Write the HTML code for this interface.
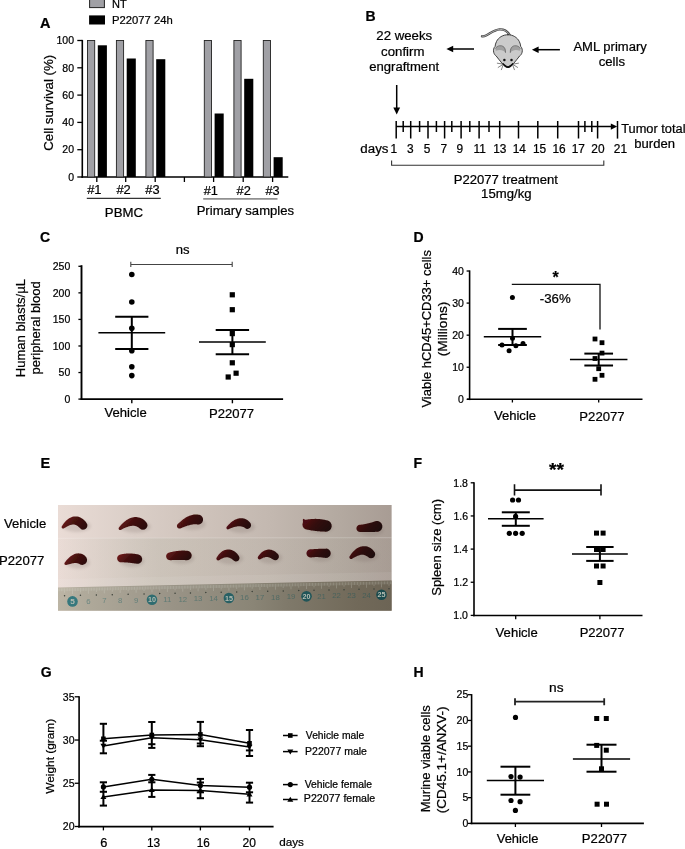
<!DOCTYPE html>
<html><head><meta charset="utf-8"><style>
html,body{margin:0;padding:0;background:#fff;}
svg{display:block;will-change:transform;}
text{font-family:"Liberation Sans",sans-serif;}
text:not([fill]){stroke:#000;stroke-width:0.22px;}
</style></head><body>
<svg width="685" height="849" viewBox="0 0 685 849">
<rect width="685" height="849" fill="#fff"/>
<rect x="89.6" y="-1" width="14.8" height="8.6" fill="#a0a0a5" stroke="#222" stroke-width="1"/>
<rect x="89.10" y="15.40" width="15.90" height="9.10" fill="#000" />
<text x="112.02" y="7.90" font-size="11">NT</text>
<text x="112.00" y="24.00" font-size="11" textLength="60.72" lengthAdjust="spacingAndGlyphs">P22077 24h</text>
<text x="40.04" y="27.70" font-size="14.5" font-weight="bold">A</text>
<text transform="translate(52.70,150.10) rotate(-90)" x="-0.66" y="0" font-size="12.5" textLength="96.01" lengthAdjust="spacingAndGlyphs">Cell survival (%)</text>
<line x1="82.30" y1="39.90" x2="82.30" y2="177.80" stroke="#000" stroke-width="1.6" />
<line x1="77.30" y1="177.00" x2="82.30" y2="177.00" stroke="#000" stroke-width="1.3" />
<text x="68.19" y="180.70" font-size="10.5">0</text>
<line x1="77.30" y1="149.70" x2="82.30" y2="149.70" stroke="#000" stroke-width="1.3" />
<text x="62.36" y="153.40" font-size="10.5">20</text>
<line x1="77.30" y1="122.40" x2="82.30" y2="122.40" stroke="#000" stroke-width="1.3" />
<text x="62.36" y="126.10" font-size="10.5">40</text>
<line x1="77.30" y1="95.10" x2="82.30" y2="95.10" stroke="#000" stroke-width="1.3" />
<text x="62.36" y="98.80" font-size="10.5">60</text>
<line x1="77.30" y1="67.80" x2="82.30" y2="67.80" stroke="#000" stroke-width="1.3" />
<text x="62.36" y="71.50" font-size="10.5">80</text>
<line x1="77.30" y1="40.50" x2="82.30" y2="40.50" stroke="#000" stroke-width="1.3" />
<text x="56.54" y="44.20" font-size="10.5">100</text>
<line x1="81.50" y1="177.00" x2="288.30" y2="177.00" stroke="#000" stroke-width="1.6" />
<line x1="96.80" y1="177.00" x2="96.80" y2="182.00" stroke="#000" stroke-width="1.3" />
<line x1="125.70" y1="177.00" x2="125.70" y2="182.00" stroke="#000" stroke-width="1.3" />
<line x1="155.20" y1="177.00" x2="155.20" y2="182.00" stroke="#000" stroke-width="1.3" />
<line x1="184.40" y1="177.00" x2="184.40" y2="182.00" stroke="#000" stroke-width="1.3" />
<line x1="213.60" y1="177.00" x2="213.60" y2="182.00" stroke="#000" stroke-width="1.3" />
<line x1="243.20" y1="177.00" x2="243.20" y2="182.00" stroke="#000" stroke-width="1.3" />
<line x1="272.60" y1="177.00" x2="272.60" y2="182.00" stroke="#000" stroke-width="1.3" />
<rect x="87.50" y="40.5" width="7.2" height="136.5" fill="#a0a0a5" stroke="#222" stroke-width="0.9"/>
<rect x="97.80" y="45.30" width="9.10" height="131.70" fill="#000" />
<rect x="116.40" y="40.5" width="7.2" height="136.5" fill="#a0a0a5" stroke="#222" stroke-width="0.9"/>
<rect x="126.70" y="58.50" width="9.10" height="118.50" fill="#000" />
<rect x="145.90" y="40.5" width="7.2" height="136.5" fill="#a0a0a5" stroke="#222" stroke-width="0.9"/>
<rect x="156.20" y="59.20" width="9.10" height="117.80" fill="#000" />
<rect x="204.30" y="40.5" width="7.2" height="136.5" fill="#a0a0a5" stroke="#222" stroke-width="0.9"/>
<rect x="214.60" y="113.50" width="9.10" height="63.50" fill="#000" />
<rect x="233.90" y="40.5" width="7.2" height="136.5" fill="#a0a0a5" stroke="#222" stroke-width="0.9"/>
<rect x="244.20" y="78.80" width="9.10" height="98.20" fill="#000" />
<rect x="263.30" y="40.5" width="7.2" height="136.5" fill="#a0a0a5" stroke="#222" stroke-width="0.9"/>
<rect x="273.60" y="157.20" width="9.10" height="19.80" fill="#000" />
<text x="87.14" y="194.20" font-size="13" textLength="14.34" lengthAdjust="spacingAndGlyphs">#1</text>
<text x="116.44" y="194.20" font-size="13" textLength="14.34" lengthAdjust="spacingAndGlyphs">#2</text>
<text x="145.34" y="194.20" font-size="13" textLength="14.27" lengthAdjust="spacingAndGlyphs">#3</text>
<text x="203.64" y="194.50" font-size="13" textLength="14.23" lengthAdjust="spacingAndGlyphs">#1</text>
<text x="236.54" y="194.50" font-size="13" textLength="14.23" lengthAdjust="spacingAndGlyphs">#2</text>
<text x="265.44" y="194.50" font-size="13" textLength="14.17" lengthAdjust="spacingAndGlyphs">#3</text>
<line x1="86.80" y1="198.40" x2="160.80" y2="198.40" stroke="#333" stroke-width="1.2" />
<line x1="203.20" y1="198.90" x2="277.50" y2="198.90" stroke="#909090" stroke-width="1.6" />
<text x="104.84" y="217.40" font-size="12.8" textLength="38.14" lengthAdjust="spacingAndGlyphs">PBMC</text>
<text x="196.65" y="215.20" font-size="12.8" textLength="97.42" lengthAdjust="spacingAndGlyphs">Primary samples</text>
<text x="365.59" y="20.60" font-size="14" font-weight="bold">B</text>
<text x="376.34" y="40.20" font-size="12.5" textLength="55.82" lengthAdjust="spacingAndGlyphs">22 weeks</text>
<text x="381.11" y="55.60" font-size="12.5" textLength="43.30" lengthAdjust="spacingAndGlyphs">confirm</text>
<text x="369.21" y="71.00" font-size="12.5" textLength="69.88" lengthAdjust="spacingAndGlyphs">engraftment</text>
<line x1="451.00" y1="49.00" x2="474.00" y2="49.00" stroke="#000" stroke-width="1.5" />
<path d="M446.4,49 L453.2,45.8 L453.2,52.2 Z" fill="#000"/>
<line x1="537.00" y1="49.70" x2="559.90" y2="49.70" stroke="#000" stroke-width="1.5" />
<path d="M531.9,49.7 L538.6,46.5 L538.6,52.9 Z" fill="#000"/>
<text x="573.43" y="51.00" font-size="12.5" textLength="73.34" lengthAdjust="spacingAndGlyphs">AML primary</text>
<text x="598.71" y="65.50" font-size="12.5" textLength="26.36" lengthAdjust="spacingAndGlyphs">cells</text>
<g stroke-linejoin="round" stroke-linecap="round">
<path d="M509.5,34.8 C507.5,31 503.5,29.2 499.5,29.4 C494.5,29.8 490,33.5 486,35.5 C484.5,36.3 483,36.6 482,36.3" fill="none" stroke="#444" stroke-width="2.3"/>
<path d="M509.5,34.8 C507.5,31 503.5,29.2 499.5,29.4 C494.5,29.8 490,33.5 486,35.5 C484.5,36.3 483,36.6 482,36.3" fill="none" stroke="#bbb" stroke-width="0.9"/>
<path d="M507.9,34.7 C513,34.7 517.3,37.5 519.3,41.5 C520.2,43.3 520.6,45 520.7,46.4 C522.2,47.8 522.6,50.3 522.1,52.3 C521.6,54.3 520.6,55.3 519.7,55.9 C517.8,58.3 515.5,61.3 513.5,63.6 C511.5,65.9 509.8,67.1 507.9,67.1 C506,67.1 504.3,65.9 502.3,63.6 C500.3,61.3 498,58.3 496.1,55.9 C495.2,55.3 494.2,54.3 493.7,52.3 C493.2,50.3 493.6,47.8 495.1,46.4 C495.2,45 495.6,43.3 496.5,41.5 C498.5,37.5 502.8,34.7 507.9,34.7 Z" fill="#cbcbcb" stroke="#2e2e2e" stroke-width="0.9"/>
<path d="M495.6,48.6 C497,46 500.5,45.2 503,46.6 C504.8,47.6 505.6,49.8 505.5,52.4 C503.5,50 500,49 495.6,50.8 Z" fill="#a0a0a0"/>
<path d="M520.2,48.6 C518.8,46 515.3,45.2 512.8,46.6 C511,47.6 510.2,49.8 510.3,52.4 C512.3,50 515.8,49 520.2,50.8 Z" fill="#a0a0a0"/>
<path d="M495.6,48.2 C497,45.8 500.5,45 503,46.4 C504.8,47.4 505.6,49.6 505.5,52.4" fill="none" stroke="#555" stroke-width="0.7"/>
<path d="M520.2,48.2 C518.8,45.8 515.3,45 512.8,46.4 C511,47.4 510.2,49.6 510.3,52.4" fill="none" stroke="#555" stroke-width="0.7"/>
<circle cx="504.4" cy="60.1" r="1.25" fill="#111"/>
<circle cx="511.5" cy="60.1" r="1.25" fill="#111"/>
<path d="M503,63.6 C505,65.5 506.5,66.8 507.9,66.8 C509.3,66.8 510.8,65.5 512.8,63.6 C511.5,65.8 509.8,67.4 507.9,67.4 C506,67.4 504.3,65.8 503,63.6 Z" fill="#111" stroke="#111" stroke-width="1.2"/>
<g stroke="#333" stroke-width="0.6" fill="none">
<path d="M502.2,64 L497.3,63.2"/><path d="M502.4,64.8 L498.2,67.4"/><path d="M503,65.3 L501.4,69.7"/>
<path d="M513.6,64 L518.5,63.2"/><path d="M513.4,64.8 L517.6,67.4"/><path d="M512.8,65.3 L514.4,69.7"/>
</g></g>
<line x1="396.70" y1="85.00" x2="396.70" y2="109.00" stroke="#000" stroke-width="1.5" />
<path d="M396.7,114.6 L393.3,107.6 L400.1,107.6 Z" fill="#000"/>
<line x1="396.20" y1="126.60" x2="612.00" y2="126.60" stroke="#000" stroke-width="1.5" />
<path d="M617.2,126.6 L610.8,123.4 L610.8,129.8 Z" fill="#000"/>
<line x1="617.50" y1="121.00" x2="617.50" y2="138.60" stroke="#000" stroke-width="1.5" />
<line x1="396.20" y1="121.00" x2="396.20" y2="138.50" stroke="#000" stroke-width="1.5" />
<line x1="410.70" y1="121.00" x2="410.70" y2="138.50" stroke="#000" stroke-width="1.5" />
<line x1="428.00" y1="121.00" x2="428.00" y2="138.50" stroke="#000" stroke-width="1.5" />
<line x1="444.60" y1="121.00" x2="444.60" y2="138.50" stroke="#000" stroke-width="1.5" />
<line x1="461.10" y1="121.00" x2="461.10" y2="138.50" stroke="#000" stroke-width="1.5" />
<line x1="479.10" y1="121.00" x2="479.10" y2="138.50" stroke="#000" stroke-width="1.5" />
<line x1="499.70" y1="121.00" x2="499.70" y2="138.50" stroke="#000" stroke-width="1.5" />
<line x1="518.50" y1="121.00" x2="518.50" y2="138.50" stroke="#000" stroke-width="1.5" />
<line x1="537.80" y1="121.00" x2="537.80" y2="138.50" stroke="#000" stroke-width="1.5" />
<line x1="557.70" y1="121.00" x2="557.70" y2="138.50" stroke="#000" stroke-width="1.5" />
<line x1="578.50" y1="121.00" x2="578.50" y2="138.50" stroke="#000" stroke-width="1.5" />
<line x1="597.60" y1="121.00" x2="597.60" y2="138.50" stroke="#000" stroke-width="1.5" />
<line x1="403.20" y1="121.00" x2="403.20" y2="132.00" stroke="#000" stroke-width="1.5" />
<line x1="419.60" y1="121.00" x2="419.60" y2="132.00" stroke="#000" stroke-width="1.5" />
<line x1="436.40" y1="121.00" x2="436.40" y2="132.00" stroke="#000" stroke-width="1.5" />
<line x1="451.80" y1="121.00" x2="451.80" y2="132.00" stroke="#000" stroke-width="1.5" />
<line x1="469.80" y1="121.00" x2="469.80" y2="132.00" stroke="#000" stroke-width="1.5" />
<line x1="489.00" y1="121.00" x2="489.00" y2="132.00" stroke="#000" stroke-width="1.5" />
<line x1="584.90" y1="121.00" x2="584.90" y2="132.00" stroke="#000" stroke-width="1.5" />
<line x1="591.80" y1="121.00" x2="591.80" y2="132.00" stroke="#000" stroke-width="1.5" />
<text x="360.37" y="152.50" font-size="12.5" textLength="28.13" lengthAdjust="spacingAndGlyphs">days</text>
<text x="390.55" y="152.60" font-size="11.9">1</text>
<text x="407.08" y="152.60" font-size="11.9">3</text>
<text x="423.70" y="152.60" font-size="11.9">5</text>
<text x="440.45" y="152.60" font-size="11.9">7</text>
<text x="456.50" y="152.60" font-size="11.9">9</text>
<text x="473.59" y="152.60" font-size="11.9">11</text>
<text x="493.22" y="152.60" font-size="11.9">13</text>
<text x="512.73" y="152.60" font-size="11.9">14</text>
<text x="532.89" y="152.60" font-size="11.9">15</text>
<text x="552.42" y="152.60" font-size="11.9">16</text>
<text x="571.75" y="152.60" font-size="11.9">17</text>
<text x="591.34" y="152.60" font-size="11.9">20</text>
<text x="613.80" y="152.60" font-size="11.9">21</text>
<text x="621.18" y="132.60" font-size="12.5" textLength="64.36" lengthAdjust="spacingAndGlyphs">Tumor total</text>
<text x="634.35" y="147.80" font-size="12.5" textLength="40.58" lengthAdjust="spacingAndGlyphs">burden</text>
<path d="M391.6,160.6 L391.6,165.2 L603.8,165.2 L603.8,160.6" fill="none" stroke="#333" stroke-width="1.1"/>
<text x="453.75" y="183.50" font-size="12.5" textLength="104.08" lengthAdjust="spacingAndGlyphs">P22077 treatment</text>
<text x="481.11" y="197.90" font-size="12.5" textLength="50.45" lengthAdjust="spacingAndGlyphs">15mg/kg</text>
<text x="40.04" y="242.40" font-size="14" font-weight="bold">C</text>
<line x1="81.50" y1="265.20" x2="81.50" y2="399.90" stroke="#000" stroke-width="1.9" />
<line x1="78.40" y1="399.10" x2="81.50" y2="399.10" stroke="#000" stroke-width="1.3" />
<text x="64.39" y="402.80" font-size="10.5">0</text>
<line x1="78.40" y1="372.54" x2="81.50" y2="372.54" stroke="#000" stroke-width="1.3" />
<text x="58.56" y="376.24" font-size="10.5">50</text>
<line x1="78.40" y1="345.98" x2="81.50" y2="345.98" stroke="#000" stroke-width="1.3" />
<text x="52.74" y="349.68" font-size="10.5">100</text>
<line x1="78.40" y1="319.42" x2="81.50" y2="319.42" stroke="#000" stroke-width="1.3" />
<text x="52.74" y="323.12" font-size="10.5">150</text>
<line x1="78.40" y1="292.86" x2="81.50" y2="292.86" stroke="#000" stroke-width="1.3" />
<text x="52.74" y="296.56" font-size="10.5">200</text>
<line x1="78.40" y1="266.30" x2="81.50" y2="266.30" stroke="#000" stroke-width="1.3" />
<text x="52.74" y="270.00" font-size="10.5">250</text>
<line x1="80.60" y1="399.10" x2="283.10" y2="399.10" stroke="#000" stroke-width="1.9" />
<line x1="131.80" y1="399.10" x2="131.80" y2="403.30" stroke="#000" stroke-width="1.4" />
<line x1="232.40" y1="399.10" x2="232.40" y2="403.30" stroke="#000" stroke-width="1.4" />
<text x="104.53" y="417.00" font-size="12.5" textLength="42.15" lengthAdjust="spacingAndGlyphs">Vehicle</text>
<text x="208.95" y="417.60" font-size="12.5" textLength="45.14" lengthAdjust="spacingAndGlyphs">P22077</text>
<path d="M130.8,261.8 L130.8,267 M130.8,264.5 L232.2,264.5 M232.2,261.8 L232.2,267" fill="none" stroke="#444" stroke-width="1.1"/>
<text x="175.85" y="254.40" font-size="12.5" textLength="13.82" lengthAdjust="spacingAndGlyphs">ns</text>
<circle cx="131.80" cy="274.50" r="2.8" fill="#000"/>
<circle cx="131.80" cy="302.00" r="2.8" fill="#000"/>
<circle cx="131.80" cy="328.20" r="2.8" fill="#000"/>
<circle cx="131.80" cy="350.70" r="2.8" fill="#000"/>
<circle cx="131.80" cy="366.80" r="2.8" fill="#000"/>
<circle cx="131.80" cy="375.60" r="2.8" fill="#000"/>
<line x1="131.80" y1="316.70" x2="131.80" y2="349.00" stroke="#000" stroke-width="2.0" />
<line x1="115.20" y1="316.70" x2="148.40" y2="316.70" stroke="#000" stroke-width="2.0" />
<line x1="115.20" y1="349.00" x2="148.40" y2="349.00" stroke="#000" stroke-width="2.0" />
<line x1="98.40" y1="332.70" x2="165.20" y2="332.70" stroke="#000" stroke-width="1.6" />
<rect x="229.70" y="292.20" width="5.20" height="5.20" fill="#000" />
<rect x="229.70" y="307.10" width="5.20" height="5.20" fill="#000" />
<rect x="229.70" y="331.00" width="5.20" height="5.20" fill="#000" />
<rect x="229.70" y="342.00" width="5.20" height="5.20" fill="#000" />
<rect x="229.70" y="360.20" width="5.20" height="5.20" fill="#000" />
<rect x="233.50" y="370.60" width="5.20" height="5.20" fill="#000" />
<rect x="225.60" y="374.40" width="5.20" height="5.20" fill="#000" />
<line x1="232.40" y1="330.00" x2="232.40" y2="354.20" stroke="#000" stroke-width="2.0" />
<line x1="215.70" y1="330.00" x2="249.10" y2="330.00" stroke="#000" stroke-width="2.0" />
<line x1="215.70" y1="354.20" x2="249.10" y2="354.20" stroke="#000" stroke-width="2.0" />
<line x1="199.00" y1="342.00" x2="265.80" y2="342.00" stroke="#000" stroke-width="1.6" />
<text transform="translate(25.20,376.20) rotate(-90)" x="-1.04" y="0" font-size="12.5" textLength="98.22" lengthAdjust="spacingAndGlyphs">Human blasts/µL</text>
<text transform="translate(39.70,373.70) rotate(-90)" x="-0.84" y="0" font-size="12.5" textLength="93.22" lengthAdjust="spacingAndGlyphs">peripheral blood</text>
<text x="413.49" y="242.00" font-size="14" font-weight="bold">D</text>
<line x1="469.60" y1="270.40" x2="469.60" y2="400.10" stroke="#000" stroke-width="1.6" />
<line x1="466.60" y1="399.30" x2="469.60" y2="399.30" stroke="#000" stroke-width="1.3" />
<text x="458.09" y="403.00" font-size="10.5">0</text>
<line x1="466.60" y1="367.23" x2="469.60" y2="367.23" stroke="#000" stroke-width="1.3" />
<text x="452.26" y="370.93" font-size="10.5">10</text>
<line x1="466.60" y1="335.16" x2="469.60" y2="335.16" stroke="#000" stroke-width="1.3" />
<text x="452.27" y="338.86" font-size="10.5">20</text>
<line x1="466.60" y1="303.09" x2="469.60" y2="303.09" stroke="#000" stroke-width="1.3" />
<text x="452.26" y="306.79" font-size="10.5">30</text>
<line x1="466.60" y1="271.02" x2="469.60" y2="271.02" stroke="#000" stroke-width="1.3" />
<text x="452.26" y="274.72" font-size="10.5">40</text>
<line x1="467.00" y1="399.30" x2="642.50" y2="399.30" stroke="#000" stroke-width="1.6" />
<line x1="512.40" y1="399.30" x2="512.40" y2="402.50" stroke="#000" stroke-width="1.3" />
<line x1="598.70" y1="399.30" x2="598.70" y2="402.50" stroke="#000" stroke-width="1.3" />
<text x="493.93" y="420.40" font-size="12.5" textLength="42.15" lengthAdjust="spacingAndGlyphs">Vehicle</text>
<text x="579.35" y="420.50" font-size="12.5" textLength="45.24" lengthAdjust="spacingAndGlyphs">P22077</text>
<text transform="translate(431.30,407.50) rotate(-90)" x="-0.06" y="0" font-size="12.5" textLength="157.43" lengthAdjust="spacingAndGlyphs">Viable hCD45+CD33+ cells</text>
<text transform="translate(447.10,355.50) rotate(-90)" x="-0.82" y="0" font-size="12.5" textLength="54.71" lengthAdjust="spacingAndGlyphs">(Millions)</text>
<path d="M511.8,284.3 L600,284.3 L600,329.5" fill="none" stroke="#111" stroke-width="1.3"/>
<text x="552.62" y="282.63" font-size="17" textLength="6.25" lengthAdjust="spacingAndGlyphs" font-weight="bold">*</text>
<text x="539.81" y="302.90" font-size="12.5" textLength="30.85" lengthAdjust="spacingAndGlyphs">-36%</text>
<circle cx="512.40" cy="297.60" r="2.5" fill="#000"/>
<circle cx="512.50" cy="338.20" r="2.5" fill="#000"/>
<circle cx="502.00" cy="345.00" r="2.5" fill="#000"/>
<circle cx="515.90" cy="345.70" r="2.5" fill="#000"/>
<circle cx="523.00" cy="343.50" r="2.5" fill="#000"/>
<circle cx="509.10" cy="350.70" r="2.5" fill="#000"/>
<line x1="512.50" y1="328.90" x2="512.50" y2="345.00" stroke="#000" stroke-width="2.0" />
<line x1="498.15" y1="328.90" x2="526.85" y2="328.90" stroke="#000" stroke-width="2.0" />
<line x1="498.15" y1="345.00" x2="526.85" y2="345.00" stroke="#000" stroke-width="2.0" />
<line x1="483.80" y1="336.80" x2="541.20" y2="336.80" stroke="#000" stroke-width="1.6" />
<rect x="592.60" y="336.60" width="4.80" height="4.80" fill="#000" />
<rect x="599.60" y="340.30" width="4.80" height="4.80" fill="#000" />
<rect x="599.60" y="350.70" width="4.80" height="4.80" fill="#000" />
<rect x="592.60" y="356.10" width="4.80" height="4.80" fill="#000" />
<rect x="596.30" y="366.30" width="4.80" height="4.80" fill="#000" />
<rect x="599.60" y="372.90" width="4.80" height="4.80" fill="#000" />
<rect x="592.60" y="376.90" width="4.80" height="4.80" fill="#000" />
<line x1="598.70" y1="353.60" x2="598.70" y2="365.50" stroke="#000" stroke-width="2.0" />
<line x1="584.35" y1="353.60" x2="613.05" y2="353.60" stroke="#000" stroke-width="2.0" />
<line x1="584.35" y1="365.50" x2="613.05" y2="365.50" stroke="#000" stroke-width="2.0" />
<line x1="569.95" y1="359.50" x2="627.45" y2="359.50" stroke="#000" stroke-width="1.6" />
<text x="40.56" y="468.00" font-size="14.5" font-weight="bold">E</text>
<text x="4.03" y="527.70" font-size="12.5" textLength="42.25" lengthAdjust="spacingAndGlyphs">Vehicle</text>
<text x="-0.95" y="564.80" font-size="12.5" textLength="45.24" lengthAdjust="spacingAndGlyphs">P22077</text>
<defs><linearGradient id="pg" gradientUnits="objectBoundingBox" x1="0" y1="0" x2="1" y2="0"><stop offset="0.0000" stop-color="#eadcd6"/><stop offset="0.2157" stop-color="#dbcfc8"/><stop offset="0.4254" stop-color="#cfc3bb"/><stop offset="0.6351" stop-color="#c3b8b0"/><stop offset="0.8448" stop-color="#b3a9a0"/><stop offset="1.0000" stop-color="#a89c94"/></linearGradient><linearGradient id="rg" gradientUnits="objectBoundingBox" x1="0" y1="0" x2="1" y2="0"><stop offset="0.0000" stop-color="#bcb5a5"/><stop offset="0.0749" stop-color="#b0aa9b"/><stop offset="0.3445" stop-color="#999386"/><stop offset="0.5842" stop-color="#8a8576"/><stop offset="0.6890" stop-color="#7f796a"/><stop offset="0.8987" stop-color="#716959"/><stop offset="1.0000" stop-color="#6c6455"/></linearGradient>
<filter id="bl" x="-20%" y="-20%" width="140%" height="140%"><feGaussianBlur stdDeviation="0.6"/></filter>
<filter id="bl2" x="-20%" y="-50%" width="140%" height="200%"><feGaussianBlur stdDeviation="1.6"/></filter>
<filter id="bl3"><feGaussianBlur stdDeviation="0.35"/></filter>
<clipPath id="pc"><rect x="58" y="504.9" width="333.8" height="105.9"/></clipPath>
</defs>
<g clip-path="url(#pc)">
<rect x="58.00" y="504.90" width="333.80" height="105.90" fill="url(#pg)" />
<path d="M58,538.3 L391.8,537.6" stroke="#ffffff" stroke-opacity="0.18" stroke-width="1.2"/>
<linearGradient id="mb" x1="0" y1="0" x2="1" y2="0"><stop offset="0" stop-color="#8c9880" stop-opacity="0"/><stop offset="0.3" stop-color="#8c9880" stop-opacity="0.14"/><stop offset="0.6" stop-color="#8c9880" stop-opacity="0.06"/><stop offset="1" stop-color="#8c9880" stop-opacity="0.02"/></linearGradient>
<path d="M58,538.3 L391.8,537.6 L391.8,582 L58,588 Z" fill="url(#mb)"/>
<path d="M58,579 L391.8,572 L391.8,580.4 L58,587.6 Z" fill="#ffffff" opacity="0.07"/>
<path d="M58,587.60 L391.8,580.40 L391.8,611 L58,611 Z" fill="url(#rg)"/>
<path d="M58.19,588.40 l0,3 M59.78,588.36 l0,3 M61.37,588.33 l0,3 M62.96,588.29 l0,3 M64.55,588.26 l0,4.5 M66.14,588.22 l0,3 M67.73,588.19 l0,3 M69.32,588.16 l0,3 M70.91,588.12 l0,3 M72.50,588.09 l0,6 M74.09,588.05 l0,3 M75.68,588.02 l0,3 M77.27,587.98 l0,3 M78.86,587.95 l0,3 M80.45,587.92 l0,4.5 M82.04,587.88 l0,3 M83.63,587.85 l0,3 M85.22,587.81 l0,3 M86.81,587.78 l0,3 M88.40,587.74 l0,6 M89.99,587.71 l0,3 M91.58,587.68 l0,3 M93.17,587.64 l0,3 M94.76,587.61 l0,3 M96.35,587.57 l0,4.5 M97.94,587.54 l0,3 M99.53,587.50 l0,3 M101.12,587.47 l0,3 M102.71,587.44 l0,3 M104.30,587.40 l0,6 M105.89,587.37 l0,3 M107.48,587.33 l0,3 M109.07,587.30 l0,3 M110.66,587.26 l0,3 M112.25,587.23 l0,4.5 M113.84,587.20 l0,3 M115.43,587.16 l0,3 M117.02,587.13 l0,3 M118.61,587.09 l0,3 M120.20,587.06 l0,6 M121.79,587.02 l0,3 M123.38,586.99 l0,3 M124.97,586.96 l0,3 M126.56,586.92 l0,3 M128.15,586.89 l0,4.5 M129.74,586.85 l0,3 M131.33,586.82 l0,3 M132.92,586.78 l0,3 M134.51,586.75 l0,3 M136.10,586.72 l0,6 M137.69,586.68 l0,3 M139.28,586.65 l0,3 M140.87,586.61 l0,3 M142.46,586.58 l0,3 M144.05,586.54 l0,4.5 M145.64,586.51 l0,3 M147.23,586.48 l0,3 M148.82,586.44 l0,3 M150.41,586.41 l0,3 M152.00,586.37 l0,6 M153.54,586.34 l0,3 M155.08,586.31 l0,3 M156.61,586.27 l0,3 M158.15,586.24 l0,3 M159.69,586.21 l0,4.5 M161.23,586.17 l0,3 M162.77,586.14 l0,3 M164.30,586.11 l0,3 M165.84,586.07 l0,3 M167.38,586.04 l0,6 M168.92,586.01 l0,3 M170.46,585.97 l0,3 M171.99,585.94 l0,3 M173.53,585.91 l0,3 M175.07,585.87 l0,4.5 M176.61,585.84 l0,3 M178.15,585.81 l0,3 M179.68,585.78 l0,3 M181.22,585.74 l0,3 M182.76,585.71 l0,6 M184.30,585.68 l0,3 M185.84,585.64 l0,3 M187.37,585.61 l0,3 M188.91,585.58 l0,3 M190.45,585.54 l0,4.5 M191.99,585.51 l0,3 M193.53,585.48 l0,3 M195.06,585.44 l0,3 M196.60,585.41 l0,3 M198.14,585.38 l0,6 M199.68,585.34 l0,3 M201.22,585.31 l0,3 M202.75,585.28 l0,3 M204.29,585.24 l0,3 M205.83,585.21 l0,4.5 M207.37,585.18 l0,3 M208.91,585.14 l0,3 M210.44,585.11 l0,3 M211.98,585.08 l0,3 M213.52,585.05 l0,6 M215.06,585.01 l0,3 M216.60,584.98 l0,3 M218.13,584.95 l0,3 M219.67,584.91 l0,3 M221.21,584.88 l0,4.5 M222.75,584.85 l0,3 M224.29,584.81 l0,3 M225.82,584.78 l0,3 M227.36,584.75 l0,3 M228.90,584.71 l0,6 M230.45,584.68 l0,3 M232.00,584.65 l0,3 M233.56,584.61 l0,3 M235.11,584.58 l0,3 M236.66,584.55 l0,4.5 M238.21,584.51 l0,3 M239.76,584.48 l0,3 M241.32,584.45 l0,3 M242.87,584.41 l0,3 M244.42,584.38 l0,6 M245.97,584.35 l0,3 M247.52,584.31 l0,3 M249.08,584.28 l0,3 M250.63,584.25 l0,3 M252.18,584.21 l0,4.5 M253.73,584.18 l0,3 M255.28,584.14 l0,3 M256.84,584.11 l0,3 M258.39,584.08 l0,3 M259.94,584.04 l0,6 M261.49,584.01 l0,3 M263.04,583.98 l0,3 M264.60,583.94 l0,3 M266.15,583.91 l0,3 M267.70,583.88 l0,4.5 M269.25,583.84 l0,3 M270.80,583.81 l0,3 M272.36,583.78 l0,3 M273.91,583.74 l0,3 M275.46,583.71 l0,6 M277.01,583.68 l0,3 M278.56,583.64 l0,3 M280.12,583.61 l0,3 M281.67,583.58 l0,3 M283.22,583.54 l0,4.5 M284.77,583.51 l0,3 M286.32,583.48 l0,3 M287.88,583.44 l0,3 M289.43,583.41 l0,3 M290.98,583.37 l0,6 M292.53,583.34 l0,3 M294.08,583.31 l0,3 M295.64,583.27 l0,3 M297.19,583.24 l0,3 M298.74,583.21 l0,4.5 M300.29,583.17 l0,3 M301.84,583.14 l0,3 M303.40,583.11 l0,3 M304.95,583.07 l0,3 M306.50,583.04 l0,6 M308.00,583.01 l0,3 M309.50,582.98 l0,3 M311.00,582.94 l0,3 M312.50,582.91 l0,3 M314.00,582.88 l0,4.5 M315.50,582.85 l0,3 M317.00,582.81 l0,3 M318.50,582.78 l0,3 M320.00,582.75 l0,3 M321.50,582.72 l0,6 M323.00,582.68 l0,3 M324.50,582.65 l0,3 M326.00,582.62 l0,3 M327.50,582.59 l0,3 M329.00,582.55 l0,4.5 M330.50,582.52 l0,3 M332.00,582.49 l0,3 M333.50,582.46 l0,3 M335.00,582.43 l0,3 M336.50,582.39 l0,6 M338.00,582.36 l0,3 M339.50,582.33 l0,3 M341.00,582.30 l0,3 M342.50,582.26 l0,3 M344.00,582.23 l0,4.5 M345.50,582.20 l0,3 M347.00,582.17 l0,3 M348.50,582.13 l0,3 M350.00,582.10 l0,3 M351.50,582.07 l0,6 M353.00,582.04 l0,3 M354.50,582.00 l0,3 M356.00,581.97 l0,3 M357.50,581.94 l0,3 M359.00,581.91 l0,4.5 M360.50,581.88 l0,3 M362.00,581.84 l0,3 M363.50,581.81 l0,3 M365.00,581.78 l0,3 M366.50,581.75 l0,6 M368.00,581.71 l0,3 M369.50,581.68 l0,3 M371.00,581.65 l0,3 M372.50,581.62 l0,3 M374.00,581.58 l0,4.5 M375.50,581.55 l0,3 M377.00,581.52 l0,3 M378.50,581.49 l0,3 M380.00,581.45 l0,3 M381.50,581.42 l0,6 M383.00,581.39 l0,3 M384.50,581.36 l0,3 M386.00,581.33 l0,3 M387.50,581.29 l0,3 M389.00,581.26 l0,4.5 M390.50,581.23 l0,3 M392.00,581.20 l0,3" stroke="#e8ece2" stroke-width="0.6" stroke-opacity="0.35"/>
<circle cx="64.55" cy="595.66" r="0.75" fill="#3a3f38"/>
<circle cx="80.45" cy="595.32" r="0.75" fill="#3a3f38"/>
<circle cx="96.35" cy="594.97" r="0.75" fill="#3a3f38"/>
<circle cx="112.25" cy="594.63" r="0.75" fill="#3a3f38"/>
<circle cx="128.15" cy="594.29" r="0.75" fill="#3a3f38"/>
<circle cx="144.05" cy="593.94" r="0.75" fill="#3a3f38"/>
<circle cx="159.69" cy="593.61" r="0.75" fill="#3a3f38"/>
<circle cx="175.07" cy="593.27" r="0.75" fill="#3a3f38"/>
<circle cx="190.45" cy="592.94" r="0.75" fill="#3a3f38"/>
<circle cx="205.83" cy="592.61" r="0.75" fill="#3a3f38"/>
<circle cx="221.21" cy="592.28" r="0.75" fill="#3a3f38"/>
<circle cx="236.66" cy="591.95" r="0.75" fill="#3a3f38"/>
<circle cx="252.18" cy="591.61" r="0.75" fill="#3a3f38"/>
<circle cx="267.70" cy="591.28" r="0.75" fill="#3a3f38"/>
<circle cx="283.22" cy="590.94" r="0.75" fill="#3a3f38"/>
<circle cx="298.74" cy="590.61" r="0.75" fill="#3a3f38"/>
<circle cx="314.00" cy="590.28" r="0.75" fill="#3a3f38"/>
<circle cx="329.00" cy="589.95" r="0.75" fill="#3a3f38"/>
<circle cx="344.00" cy="589.63" r="0.75" fill="#3a3f38"/>
<circle cx="359.00" cy="589.31" r="0.75" fill="#3a3f38"/>
<circle cx="374.00" cy="588.98" r="0.75" fill="#3a3f38"/>
<circle cx="389.00" cy="588.66" r="0.75" fill="#3a3f38"/>
<circle cx="72.50" cy="601.40" r="5.3" fill="#36787d"/>
<text x="72.50" y="604.00" font-size="8.0" font-weight="bold" fill="#b4bcb2" text-anchor="middle" textLength="4.6" lengthAdjust="spacingAndGlyphs">5</text>
<text x="88.40" y="603.76" font-size="7.8" fill="#6c8781" text-anchor="middle">6</text>
<text x="104.30" y="603.42" font-size="7.8" fill="#6a857f" text-anchor="middle">7</text>
<text x="120.20" y="603.08" font-size="7.8" fill="#68837d" text-anchor="middle">8</text>
<text x="136.10" y="602.73" font-size="7.8" fill="#65807a" text-anchor="middle">9</text>
<circle cx="152.00" cy="599.69" r="5.3" fill="#2f6c70"/>
<text x="152.00" y="602.29" font-size="7.0" font-weight="bold" fill="#b4bcb2" text-anchor="middle" textLength="8.0" lengthAdjust="spacingAndGlyphs">10</text>
<text x="167.38" y="602.06" font-size="7.8" fill="#617c76" text-anchor="middle">11</text>
<text x="182.76" y="601.73" font-size="7.8" fill="#5f7973" text-anchor="middle">12</text>
<text x="198.14" y="601.40" font-size="7.8" fill="#5d7771" text-anchor="middle">13</text>
<text x="213.52" y="601.07" font-size="7.8" fill="#5b756f" text-anchor="middle">14</text>
<circle cx="228.90" cy="598.04" r="5.3" fill="#286064"/>
<text x="228.90" y="600.64" font-size="7.0" font-weight="bold" fill="#b4bcb2" text-anchor="middle" textLength="8.0" lengthAdjust="spacingAndGlyphs">15</text>
<text x="244.42" y="600.41" font-size="7.8" fill="#57706a" text-anchor="middle">16</text>
<text x="259.94" y="600.07" font-size="7.8" fill="#556e68" text-anchor="middle">17</text>
<text x="275.46" y="599.74" font-size="7.8" fill="#536b65" text-anchor="middle">18</text>
<text x="290.98" y="599.40" font-size="7.8" fill="#516963" text-anchor="middle">19</text>
<circle cx="306.50" cy="596.37" r="5.3" fill="#215558"/>
<text x="306.50" y="598.97" font-size="7.0" font-weight="bold" fill="#b4bcb2" text-anchor="middle" textLength="8.0" lengthAdjust="spacingAndGlyphs">20</text>
<text x="321.50" y="598.75" font-size="7.8" fill="#4c655f" text-anchor="middle">21</text>
<text x="336.50" y="598.43" font-size="7.8" fill="#4a625c" text-anchor="middle">22</text>
<text x="351.50" y="598.10" font-size="7.8" fill="#48605a" text-anchor="middle">23</text>
<text x="366.50" y="597.78" font-size="7.8" fill="#465e58" text-anchor="middle">24</text>
<circle cx="381.50" cy="594.76" r="5.3" fill="#1a4a4d"/>
<text x="381.50" y="597.36" font-size="7.0" font-weight="bold" fill="#b4bcb2" text-anchor="middle" textLength="8.0" lengthAdjust="spacingAndGlyphs">25</text>
<ellipse cx="76.6" cy="525.9" rx="14.0" ry="6" fill="#6a5a55" opacity="0.18" filter="url(#bl2)"/>
<ellipse cx="135.3" cy="526.8" rx="15.4" ry="6" fill="#6a5a55" opacity="0.18" filter="url(#bl2)"/>
<ellipse cx="192.4" cy="524.1" rx="13.3" ry="6" fill="#6a5a55" opacity="0.18" filter="url(#bl2)"/>
<ellipse cx="241.3" cy="527.0" rx="13.7" ry="6" fill="#6a5a55" opacity="0.18" filter="url(#bl2)"/>
<ellipse cx="319.9" cy="527.6" rx="13.2" ry="6" fill="#6a5a55" opacity="0.18" filter="url(#bl2)"/>
<ellipse cx="371.2" cy="530.1" rx="12.5" ry="6" fill="#6a5a55" opacity="0.18" filter="url(#bl2)"/>
<ellipse cx="77.8" cy="562.7" rx="12.1" ry="6" fill="#6a5a55" opacity="0.18" filter="url(#bl2)"/>
<ellipse cx="132.1" cy="560.9" rx="12.2" ry="6" fill="#6a5a55" opacity="0.18" filter="url(#bl2)"/>
<ellipse cx="181.8" cy="558.1" rx="12.5" ry="6" fill="#6a5a55" opacity="0.18" filter="url(#bl2)"/>
<ellipse cx="230.3" cy="558.4" rx="12.9" ry="6" fill="#6a5a55" opacity="0.18" filter="url(#bl2)"/>
<ellipse cx="270.4" cy="557.8" rx="11.8" ry="6" fill="#6a5a55" opacity="0.18" filter="url(#bl2)"/>
<ellipse cx="321.1" cy="555.7" rx="11.8" ry="6" fill="#6a5a55" opacity="0.18" filter="url(#bl2)"/>
<ellipse cx="364.6" cy="555.7" rx="14.0" ry="6" fill="#6a5a55" opacity="0.18" filter="url(#bl2)"/>
<linearGradient id="sg264" x1="0" y1="0.3" x2="1" y2="0.7"><stop offset="0" stop-color="#761a1d"/><stop offset="0.45" stop-color="#471210"/><stop offset="1" stop-color="#2c0c0c"/></linearGradient>
<path d="M62.05,525.89 L62.85,524.68 L63.67,523.55 L64.52,522.48 L65.39,521.49 L66.30,520.58 L67.23,519.74 L68.21,518.98 L69.22,518.31 L70.28,517.73 L71.38,517.25 L72.52,516.87 L73.70,516.61 L74.91,516.48 L76.13,516.47 L77.35,516.61 L78.55,516.87 L79.73,517.26 L80.86,517.78 L81.94,518.40 L82.96,519.12 L83.92,519.94 L84.83,520.84 L85.69,521.83 L86.49,522.88 L87.24,524.34 L87.37,525.97 L86.87,527.53 L85.82,528.79 L84.36,529.54 L82.73,529.67 L81.17,529.17 L79.91,528.12 L79.30,527.49 L78.72,526.95 L78.18,526.49 L77.66,526.10 L77.19,525.77 L76.74,525.50 L76.33,525.27 L75.94,525.09 L75.55,524.93 L75.16,524.79 L74.75,524.68 L74.30,524.59 L73.80,524.53 L73.24,524.52 L72.62,524.55 L71.94,524.64 L71.18,524.80 L70.37,525.03 L69.49,525.34 L68.56,525.73 L67.58,526.20 L66.55,526.75 L65.47,527.39 L64.35,528.11 L63.84,528.47 L63.23,528.60 L62.62,528.49 L62.09,528.15 L61.73,527.64 L61.60,527.03 L61.71,526.42 Z" fill="url(#sg264)" filter="url(#bl)"/>
<linearGradient id="sg266" x1="0" y1="0.3" x2="1" y2="0.7"><stop offset="0" stop-color="#6d181b"/><stop offset="0.45" stop-color="#42100f"/><stop offset="1" stop-color="#290b0b"/></linearGradient>
<path d="M119.16,527.29 L120.17,526.04 L121.20,524.87 L122.24,523.77 L123.29,522.74 L124.35,521.79 L125.44,520.92 L126.54,520.12 L127.67,519.41 L128.81,518.78 L129.99,518.24 L131.19,517.79 L132.42,517.44 L133.66,517.20 L134.93,517.07 L136.20,517.06 L137.47,517.18 L138.73,517.41 L139.96,517.78 L141.15,518.26 L142.29,518.85 L143.38,519.55 L144.40,520.34 L145.36,521.23 L146.25,522.19 L147.20,523.67 L147.50,525.40 L147.12,527.12 L146.11,528.55 L144.63,529.50 L142.90,529.80 L141.18,529.42 L139.75,528.41 L139.19,527.95 L138.65,527.55 L138.15,527.21 L137.66,526.93 L137.20,526.68 L136.74,526.47 L136.29,526.29 L135.82,526.14 L135.32,526.00 L134.79,525.89 L134.22,525.81 L133.58,525.76 L132.89,525.75 L132.13,525.79 L131.31,525.88 L130.42,526.04 L129.47,526.25 L128.46,526.53 L127.39,526.88 L126.27,527.30 L125.09,527.79 L123.85,528.36 L122.57,529.00 L121.24,529.71 L120.70,530.02 L120.08,530.10 L119.48,529.93 L118.99,529.54 L118.68,529.00 L118.60,528.38 L118.77,527.78 Z" fill="url(#sg266)" filter="url(#bl)"/>
<linearGradient id="sg268" x1="0" y1="0.3" x2="1" y2="0.7"><stop offset="0" stop-color="#651619"/><stop offset="0.45" stop-color="#3d0f0d"/><stop offset="1" stop-color="#260a0a"/></linearGradient>
<path d="M178.03,523.86 L178.91,523.00 L179.78,522.19 L180.66,521.41 L181.53,520.67 L182.41,519.97 L183.28,519.30 L184.15,518.68 L185.03,518.09 L185.90,517.54 L186.78,517.03 L187.66,516.57 L188.54,516.14 L189.43,515.76 L190.32,515.42 L191.21,515.13 L192.11,514.88 L193.01,514.68 L193.91,514.54 L194.82,514.44 L195.72,514.40 L196.62,514.42 L197.52,514.49 L198.41,514.63 L199.28,514.82 L201.03,515.60 L202.35,516.99 L203.03,518.77 L202.98,520.68 L202.20,522.43 L200.81,523.75 L199.03,524.43 L197.12,524.38 L196.80,524.34 L196.46,524.31 L196.11,524.28 L195.72,524.27 L195.31,524.26 L194.86,524.26 L194.38,524.28 L193.87,524.32 L193.32,524.37 L192.73,524.45 L192.11,524.54 L191.46,524.66 L190.77,524.80 L190.04,524.97 L189.28,525.16 L188.48,525.38 L187.66,525.62 L186.80,525.90 L185.90,526.20 L184.98,526.53 L184.02,526.89 L183.04,527.28 L182.02,527.70 L180.97,528.14 L180.04,528.54 L179.03,528.56 L178.08,528.18 L177.36,527.47 L176.96,526.54 L176.94,525.53 L177.32,524.58 Z" fill="url(#sg268)" filter="url(#bl)"/>
<linearGradient id="sg270" x1="0" y1="0.3" x2="1" y2="0.7"><stop offset="0" stop-color="#5e1418"/><stop offset="0.45" stop-color="#380e0d"/><stop offset="1" stop-color="#230909"/></linearGradient>
<path d="M227.02,526.53 L227.90,525.51 L228.79,524.55 L229.70,523.65 L230.61,522.81 L231.53,522.04 L232.48,521.33 L233.43,520.68 L234.41,520.10 L235.40,519.59 L236.41,519.16 L237.44,518.81 L238.48,518.53 L239.54,518.35 L240.61,518.26 L241.68,518.26 L242.75,518.36 L243.80,518.57 L244.83,518.87 L245.82,519.28 L246.76,519.77 L247.66,520.35 L248.49,521.02 L249.27,521.75 L249.98,522.55 L250.80,523.74 L251.10,525.15 L250.84,526.57 L250.05,527.78 L248.86,528.60 L247.45,528.90 L246.03,528.64 L244.82,527.85 L244.33,527.56 L243.87,527.31 L243.43,527.11 L243.01,526.94 L242.62,526.80 L242.22,526.68 L241.83,526.57 L241.43,526.48 L241.01,526.40 L240.55,526.34 L240.06,526.29 L239.52,526.27 L238.93,526.27 L238.29,526.30 L237.59,526.37 L236.84,526.48 L236.03,526.63 L235.17,526.82 L234.26,527.07 L233.30,527.36 L232.29,527.71 L231.23,528.11 L230.13,528.56 L228.98,529.07 L228.42,529.34 L227.80,529.39 L227.20,529.19 L226.73,528.78 L226.46,528.22 L226.41,527.60 L226.61,527.00 Z" fill="url(#sg270)" filter="url(#bl)"/>
<linearGradient id="sg272" x1="0" y1="0.3" x2="1" y2="0.7"><stop offset="0" stop-color="#531215"/><stop offset="0.45" stop-color="#320c0b"/><stop offset="1" stop-color="#1f0808"/></linearGradient>
<path d="M307.55,519.50 L308.39,519.37 L309.23,519.26 L310.06,519.16 L310.90,519.08 L311.73,519.01 L312.56,518.96 L313.38,518.91 L314.20,518.89 L315.02,518.87 L315.84,518.87 L316.65,518.89 L317.46,518.92 L318.27,518.96 L319.07,519.02 L319.87,519.09 L320.66,519.17 L321.45,519.27 L322.23,519.39 L323.01,519.51 L323.79,519.66 L324.56,519.81 L325.32,519.98 L326.08,520.16 L326.84,520.36 L328.93,521.11 L330.58,522.61 L331.53,524.62 L331.64,526.84 L330.89,528.93 L329.39,530.58 L327.38,531.53 L325.16,531.64 L324.45,531.62 L323.75,531.60 L323.03,531.58 L322.32,531.54 L321.61,531.51 L320.89,531.46 L320.17,531.41 L319.45,531.36 L318.73,531.30 L318.00,531.23 L317.27,531.16 L316.54,531.08 L315.80,531.00 L315.06,530.91 L314.32,530.81 L313.57,530.71 L312.82,530.61 L312.07,530.49 L311.31,530.38 L310.55,530.25 L309.78,530.12 L309.01,529.99 L308.23,529.85 L307.45,529.70 L305.50,529.29 L303.86,528.17 L302.77,526.50 L302.40,524.55 L302.81,522.60 L303.93,520.96 L305.60,519.87 Z" fill="url(#sg272)" filter="url(#bl)"/>
<linearGradient id="sg274" x1="0" y1="0.3" x2="1" y2="0.7"><stop offset="0" stop-color="#4b1013"/><stop offset="0.45" stop-color="#2d0b0a"/><stop offset="1" stop-color="#1c0808"/></linearGradient>
<path d="M359.90,524.80 L360.50,524.74 L361.10,524.67 L361.71,524.59 L362.33,524.51 L362.95,524.41 L363.58,524.31 L364.22,524.20 L364.86,524.08 L365.51,523.96 L366.17,523.82 L366.83,523.68 L367.50,523.53 L368.17,523.37 L368.85,523.20 L369.54,523.03 L370.23,522.85 L370.93,522.66 L371.64,522.46 L372.35,522.25 L373.07,522.04 L373.79,521.81 L374.52,521.58 L375.25,521.34 L375.99,521.09 L378.10,521.11 L380.04,521.94 L381.52,523.44 L382.31,525.39 L382.29,527.50 L381.46,529.44 L379.96,530.92 L378.01,531.71 L377.17,531.75 L376.34,531.80 L375.52,531.84 L374.71,531.88 L373.91,531.91 L373.11,531.94 L372.32,531.97 L371.54,532.00 L370.77,532.02 L370.01,532.04 L369.25,532.06 L368.50,532.07 L367.76,532.08 L367.03,532.09 L366.30,532.09 L365.58,532.09 L364.87,532.09 L364.17,532.09 L363.47,532.08 L362.78,532.07 L362.10,532.06 L361.42,532.04 L360.76,532.02 L360.10,532.00 L358.71,531.76 L357.52,531.01 L356.71,529.87 L356.40,528.50 L356.64,527.11 L357.39,525.92 L358.53,525.11 Z" fill="url(#sg274)" filter="url(#bl)"/>
<linearGradient id="sg276" x1="0" y1="0.3" x2="1" y2="0.7"><stop offset="0" stop-color="#76191d"/><stop offset="0.45" stop-color="#471210"/><stop offset="1" stop-color="#2c0c0c"/></linearGradient>
<path d="M65.05,562.21 L65.77,561.26 L66.50,560.35 L67.24,559.49 L67.99,558.68 L68.75,557.92 L69.52,557.21 L70.31,556.55 L71.12,555.95 L71.94,555.40 L72.78,554.90 L73.64,554.47 L74.53,554.10 L75.44,553.80 L76.37,553.58 L77.32,553.43 L78.29,553.37 L79.26,553.40 L80.24,553.53 L81.20,553.76 L82.14,554.09 L83.04,554.51 L83.89,555.02 L84.68,555.62 L85.39,556.28 L86.57,557.79 L87.09,559.63 L86.86,561.53 L85.92,563.19 L84.41,564.37 L82.57,564.89 L80.67,564.66 L79.01,563.72 L78.82,563.67 L78.66,563.64 L78.53,563.61 L78.41,563.58 L78.29,563.54 L78.16,563.49 L78.00,563.43 L77.80,563.36 L77.55,563.29 L77.25,563.21 L76.89,563.15 L76.47,563.10 L75.99,563.06 L75.44,563.05 L74.84,563.07 L74.17,563.12 L73.45,563.20 L72.68,563.32 L71.85,563.47 L70.96,563.66 L70.03,563.88 L69.05,564.15 L68.02,564.45 L66.95,564.79 L66.39,565.05 L65.76,565.08 L65.17,564.87 L64.71,564.45 L64.45,563.89 L64.42,563.26 L64.63,562.67 Z" fill="url(#sg276)" filter="url(#bl)"/>
<linearGradient id="sg278" x1="0" y1="0.3" x2="1" y2="0.7"><stop offset="0" stop-color="#6e181b"/><stop offset="0.45" stop-color="#42100f"/><stop offset="1" stop-color="#290b0b"/></linearGradient>
<path d="M120.53,554.53 L121.22,554.37 L121.92,554.22 L122.63,554.08 L123.34,553.96 L124.05,553.86 L124.78,553.77 L125.50,553.69 L126.23,553.62 L126.97,553.57 L127.71,553.54 L128.45,553.51 L129.19,553.50 L129.94,553.51 L130.70,553.53 L131.45,553.56 L132.21,553.61 L132.98,553.67 L133.74,553.74 L134.51,553.83 L135.28,553.94 L136.05,554.05 L136.82,554.18 L137.59,554.32 L138.37,554.48 L140.07,555.17 L141.38,556.45 L142.10,558.14 L142.12,559.97 L141.43,561.67 L140.15,562.98 L138.46,563.70 L136.63,563.72 L135.95,563.61 L135.28,563.50 L134.61,563.40 L133.95,563.31 L133.29,563.22 L132.64,563.13 L131.99,563.05 L131.34,562.97 L130.70,562.89 L130.07,562.82 L129.43,562.76 L128.81,562.70 L128.18,562.64 L127.56,562.58 L126.94,562.53 L126.32,562.49 L125.71,562.45 L125.10,562.41 L124.49,562.38 L123.88,562.35 L123.28,562.32 L122.68,562.30 L122.08,562.28 L121.47,562.27 L119.96,562.16 L118.60,561.47 L117.61,560.32 L117.13,558.87 L117.24,557.36 L117.93,556.00 L119.08,555.01 Z" fill="url(#sg278)" filter="url(#bl)"/>
<linearGradient id="sg280" x1="0" y1="0.3" x2="1" y2="0.7"><stop offset="0" stop-color="#67161a"/><stop offset="0.45" stop-color="#3e0f0e"/><stop offset="1" stop-color="#260a0a"/></linearGradient>
<path d="M169.43,552.44 L170.24,552.24 L171.04,552.06 L171.83,551.88 L172.63,551.72 L173.41,551.56 L174.19,551.42 L174.97,551.29 L175.74,551.17 L176.51,551.06 L177.27,550.97 L178.03,550.88 L178.78,550.81 L179.53,550.74 L180.27,550.69 L181.01,550.65 L181.74,550.62 L182.46,550.61 L183.18,550.60 L183.90,550.61 L184.61,550.62 L185.31,550.65 L186.00,550.70 L186.69,550.75 L187.37,550.81 L189.14,551.32 L190.58,552.45 L191.47,554.05 L191.69,555.87 L191.18,557.64 L190.05,559.08 L188.45,559.97 L186.63,560.19 L186.05,560.16 L185.47,560.13 L184.88,560.11 L184.28,560.09 L183.68,560.07 L183.07,560.05 L182.45,560.03 L181.82,560.02 L181.18,560.01 L180.53,560.00 L179.88,560.00 L179.22,559.99 L178.54,559.99 L177.86,560.00 L177.18,560.00 L176.48,560.01 L175.77,560.02 L175.06,560.03 L174.33,560.04 L173.60,560.06 L172.85,560.08 L172.10,560.10 L171.34,560.13 L170.57,560.16 L169.05,560.08 L167.67,559.43 L166.65,558.30 L166.14,556.87 L166.22,555.35 L166.87,553.97 L168.00,552.95 Z" fill="url(#sg280)" filter="url(#bl)"/>
<linearGradient id="sg282" x1="0" y1="0.3" x2="1" y2="0.7"><stop offset="0" stop-color="#601518"/><stop offset="0.45" stop-color="#390e0d"/><stop offset="1" stop-color="#240a0a"/></linearGradient>
<path d="M216.87,557.32 L217.54,556.27 L218.24,555.28 L218.97,554.36 L219.74,553.51 L220.55,552.72 L221.40,552.00 L222.29,551.36 L223.22,550.79 L224.20,550.32 L225.23,549.94 L226.28,549.67 L227.37,549.50 L228.47,549.46 L229.57,549.53 L230.67,549.72 L231.73,550.02 L232.77,550.44 L233.76,550.95 L234.70,551.56 L235.59,552.25 L236.43,553.01 L237.22,553.85 L237.96,554.76 L238.66,555.73 L239.33,556.92 L239.49,558.28 L239.12,559.59 L238.27,560.66 L237.08,561.33 L235.72,561.49 L234.41,561.12 L233.34,560.27 L232.68,559.73 L232.06,559.25 L231.47,558.85 L230.92,558.51 L230.41,558.23 L229.94,558.00 L229.51,557.81 L229.11,557.66 L228.73,557.54 L228.37,557.44 L228.01,557.36 L227.63,557.30 L227.23,557.25 L226.79,557.23 L226.30,557.24 L225.75,557.30 L225.16,557.40 L224.50,557.55 L223.79,557.77 L223.03,558.05 L222.23,558.40 L221.37,558.82 L220.47,559.31 L219.53,559.88 L218.94,560.29 L218.24,560.45 L217.53,560.32 L216.92,559.93 L216.51,559.34 L216.35,558.64 L216.48,557.93 Z" fill="url(#sg282)" filter="url(#bl)"/>
<linearGradient id="sg284" x1="0" y1="0.3" x2="1" y2="0.7"><stop offset="0" stop-color="#5a1316"/><stop offset="0.45" stop-color="#360d0c"/><stop offset="1" stop-color="#220909"/></linearGradient>
<path d="M258.30,556.28 L258.87,555.43 L259.46,554.63 L260.09,553.88 L260.75,553.17 L261.44,552.52 L262.16,551.92 L262.93,551.38 L263.73,550.90 L264.57,550.49 L265.44,550.15 L266.34,549.89 L267.26,549.71 L268.21,549.61 L269.16,549.61 L270.11,549.69 L271.05,549.86 L271.98,550.11 L272.88,550.44 L273.76,550.85 L274.61,551.33 L275.43,551.87 L276.21,552.48 L276.97,553.14 L277.69,553.86 L278.55,555.02 L278.90,556.42 L278.68,557.85 L277.94,559.09 L276.78,559.95 L275.38,560.30 L273.95,560.08 L272.71,559.34 L272.17,558.96 L271.65,558.63 L271.16,558.34 L270.70,558.09 L270.27,557.88 L269.87,557.71 L269.49,557.56 L269.13,557.43 L268.78,557.32 L268.44,557.23 L268.09,557.15 L267.74,557.09 L267.36,557.05 L266.96,557.02 L266.52,557.02 L266.05,557.06 L265.54,557.12 L264.99,557.23 L264.40,557.38 L263.77,557.58 L263.10,557.83 L262.40,558.14 L261.66,558.50 L260.90,558.92 L260.30,559.31 L259.59,559.45 L258.88,559.30 L258.28,558.90 L257.89,558.30 L257.75,557.59 L257.90,556.88 Z" fill="url(#sg284)" filter="url(#bl)"/>
<linearGradient id="sg286" x1="0" y1="0.3" x2="1" y2="0.7"><stop offset="0" stop-color="#531215"/><stop offset="0.45" stop-color="#320c0b"/><stop offset="1" stop-color="#1f0808"/></linearGradient>
<path d="M310.08,549.32 L310.72,549.28 L311.37,549.24 L312.01,549.20 L312.66,549.17 L313.32,549.13 L313.97,549.09 L314.63,549.06 L315.29,549.03 L315.96,548.99 L316.63,548.96 L317.30,548.93 L317.97,548.90 L318.65,548.87 L319.33,548.84 L320.02,548.82 L320.71,548.79 L321.40,548.76 L322.10,548.74 L322.80,548.72 L323.51,548.69 L324.22,548.67 L324.93,548.65 L325.65,548.63 L326.37,548.61 L328.13,549.11 L329.57,550.25 L330.47,551.85 L330.69,553.67 L330.19,555.43 L329.05,556.87 L327.45,557.77 L325.63,557.99 L324.98,557.86 L324.33,557.75 L323.69,557.65 L323.05,557.55 L322.41,557.46 L321.78,557.38 L321.14,557.32 L320.51,557.25 L319.89,557.20 L319.26,557.16 L318.64,557.13 L318.03,557.10 L317.41,557.08 L316.80,557.08 L316.20,557.08 L315.60,557.09 L315.00,557.10 L314.40,557.13 L313.81,557.17 L313.22,557.21 L312.64,557.27 L312.06,557.33 L311.49,557.40 L310.92,557.48 L309.33,557.33 L307.91,556.58 L306.89,555.35 L306.42,553.82 L306.57,552.23 L307.32,550.81 L308.55,549.79 Z" fill="url(#sg286)" filter="url(#bl)"/>
<linearGradient id="sg288" x1="0" y1="0.3" x2="1" y2="0.7"><stop offset="0" stop-color="#4c1113"/><stop offset="0.45" stop-color="#2e0b0a"/><stop offset="1" stop-color="#1d0808"/></linearGradient>
<path d="M349.89,555.89 L350.70,554.70 L351.52,553.58 L352.37,552.53 L353.25,551.54 L354.15,550.63 L355.08,549.78 L356.04,549.01 L357.03,548.32 L358.06,547.71 L359.13,547.19 L360.24,546.77 L361.37,546.45 L362.54,546.23 L363.72,546.14 L364.92,546.17 L366.10,546.32 L367.27,546.59 L368.40,546.98 L369.49,547.48 L370.53,548.09 L371.50,548.79 L372.42,549.58 L373.28,550.44 L374.08,551.38 L374.93,552.73 L375.20,554.31 L374.84,555.87 L373.92,557.18 L372.57,558.03 L370.99,558.30 L369.43,557.94 L368.12,557.02 L367.54,556.58 L366.98,556.21 L366.47,555.90 L365.99,555.64 L365.54,555.44 L365.12,555.27 L364.73,555.13 L364.34,555.02 L363.95,554.92 L363.54,554.84 L363.11,554.79 L362.63,554.75 L362.09,554.75 L361.51,554.79 L360.86,554.87 L360.15,555.01 L359.38,555.21 L358.55,555.47 L357.67,555.80 L356.73,556.19 L355.74,556.66 L354.71,557.20 L353.63,557.82 L352.51,558.51 L351.91,558.91 L351.20,559.05 L350.50,558.91 L349.89,558.51 L349.49,557.91 L349.35,557.20 L349.49,556.50 Z" fill="url(#sg288)" filter="url(#bl)"/>
<path d="M303,518.8 C304.5,519 306,520.5 307,522 L304,525.5 C303,523.5 302.6,520.5 303,518.8 Z" fill="#4a0c12" filter="url(#bl)"/>
</g>
<text x="413.49" y="467.50" font-size="14" font-weight="bold">F</text>
<line x1="474.00" y1="482.30" x2="474.00" y2="616.30" stroke="#000" stroke-width="1.6" />
<line x1="470.70" y1="615.40" x2="474.00" y2="615.40" stroke="#000" stroke-width="1.3" />
<text x="453.32" y="619.10" font-size="10.5">1.0</text>
<line x1="470.70" y1="582.25" x2="474.00" y2="582.25" stroke="#000" stroke-width="1.3" />
<text x="453.43" y="585.95" font-size="10.5">1.2</text>
<line x1="470.70" y1="549.10" x2="474.00" y2="549.10" stroke="#000" stroke-width="1.3" />
<text x="453.22" y="552.80" font-size="10.5">1.4</text>
<line x1="470.70" y1="515.95" x2="474.00" y2="515.95" stroke="#000" stroke-width="1.3" />
<text x="453.38" y="519.65" font-size="10.5">1.6</text>
<line x1="470.70" y1="482.80" x2="474.00" y2="482.80" stroke="#000" stroke-width="1.3" />
<text x="453.32" y="486.50" font-size="10.5">1.8</text>
<line x1="473.00" y1="615.50" x2="642.50" y2="615.50" stroke="#000" stroke-width="1.6" />
<line x1="515.70" y1="615.50" x2="515.70" y2="619.20" stroke="#000" stroke-width="1.3" />
<line x1="599.90" y1="615.50" x2="599.90" y2="619.20" stroke="#000" stroke-width="1.3" />
<text x="495.63" y="637.20" font-size="12.5" textLength="42.15" lengthAdjust="spacingAndGlyphs">Vehicle</text>
<text x="579.66" y="636.90" font-size="12.5" textLength="44.93" lengthAdjust="spacingAndGlyphs">P22077</text>
<text transform="translate(440.50,595.20) rotate(-90)" x="-0.58" y="0" font-size="12.5" textLength="96.79" lengthAdjust="spacingAndGlyphs">Spleen size (cm)</text>
<path d="M514.5,484.2 L514.5,495.6 M514.5,490.1 L601,490.1 M601,484.2 L601,495.6" fill="none" stroke="#111" stroke-width="1.6"/>
<text x="549.00" y="475.97" font-size="17.5" textLength="14.96" lengthAdjust="spacingAndGlyphs" font-weight="bold">**</text>
<circle cx="512.60" cy="500.00" r="2.6" fill="#000"/>
<circle cx="518.50" cy="500.00" r="2.6" fill="#000"/>
<circle cx="515.60" cy="516.40" r="2.6" fill="#000"/>
<circle cx="509.30" cy="533.30" r="2.6" fill="#000"/>
<circle cx="515.60" cy="533.30" r="2.6" fill="#000"/>
<circle cx="522.20" cy="533.30" r="2.6" fill="#000"/>
<line x1="515.80" y1="512.30" x2="515.80" y2="525.80" stroke="#000" stroke-width="2.0" />
<line x1="501.80" y1="512.30" x2="529.80" y2="512.30" stroke="#000" stroke-width="2.0" />
<line x1="501.80" y1="525.80" x2="529.80" y2="525.80" stroke="#000" stroke-width="2.0" />
<line x1="488.00" y1="518.80" x2="543.60" y2="518.80" stroke="#000" stroke-width="1.6" />
<rect x="594.00" y="530.60" width="5.00" height="5.00" fill="#000" />
<rect x="600.60" y="530.60" width="5.00" height="5.00" fill="#000" />
<rect x="594.00" y="547.00" width="5.00" height="5.00" fill="#000" />
<rect x="600.60" y="547.00" width="5.00" height="5.00" fill="#000" />
<rect x="594.00" y="563.50" width="5.00" height="5.00" fill="#000" />
<rect x="600.60" y="563.50" width="5.00" height="5.00" fill="#000" />
<rect x="597.40" y="580.00" width="5.00" height="5.00" fill="#000" />
<line x1="599.90" y1="547.00" x2="599.90" y2="560.90" stroke="#000" stroke-width="2.0" />
<line x1="586.20" y1="547.00" x2="613.60" y2="547.00" stroke="#000" stroke-width="2.0" />
<line x1="586.20" y1="560.90" x2="613.60" y2="560.90" stroke="#000" stroke-width="2.0" />
<line x1="572.00" y1="554.00" x2="627.80" y2="554.00" stroke="#000" stroke-width="1.6" />
<text x="40.84" y="677.00" font-size="14" font-weight="bold">G</text>
<line x1="79.10" y1="696.20" x2="79.10" y2="827.40" stroke="#000" stroke-width="1.6" />
<line x1="74.70" y1="826.50" x2="79.10" y2="826.50" stroke="#000" stroke-width="1.3" />
<text x="62.86" y="830.20" font-size="10.5">20</text>
<line x1="74.70" y1="783.26" x2="79.10" y2="783.26" stroke="#000" stroke-width="1.3" />
<text x="62.86" y="786.97" font-size="10.5">25</text>
<line x1="74.70" y1="740.03" x2="79.10" y2="740.03" stroke="#000" stroke-width="1.3" />
<text x="62.86" y="743.73" font-size="10.5">30</text>
<line x1="74.70" y1="696.79" x2="79.10" y2="696.79" stroke="#000" stroke-width="1.3" />
<text x="62.86" y="700.50" font-size="10.5">35</text>
<line x1="78.00" y1="826.60" x2="273.60" y2="826.60" stroke="#000" stroke-width="1.6" />
<line x1="103.40" y1="826.60" x2="103.40" y2="830.40" stroke="#000" stroke-width="1.3" />
<line x1="151.80" y1="826.60" x2="151.80" y2="830.40" stroke="#000" stroke-width="1.3" />
<line x1="200.40" y1="826.60" x2="200.40" y2="830.40" stroke="#000" stroke-width="1.3" />
<line x1="249.50" y1="826.60" x2="249.50" y2="830.40" stroke="#000" stroke-width="1.3" />
<text x="100.26" y="846.70" font-size="12.4" textLength="7.13" lengthAdjust="spacingAndGlyphs">6</text>
<text x="147.01" y="846.70" font-size="12.4" textLength="13.26" lengthAdjust="spacingAndGlyphs">13</text>
<text x="196.82" y="846.70" font-size="12.4" textLength="13.03" lengthAdjust="spacingAndGlyphs">16</text>
<text x="242.45" y="846.70" font-size="12.4" textLength="13.41" lengthAdjust="spacingAndGlyphs">20</text>
<text x="279.23" y="846.20" font-size="11.7">days</text>
<text transform="translate(53.70,793.70) rotate(-90)" x="-0.06" y="0" font-size="11.8" textLength="74.89" lengthAdjust="spacingAndGlyphs">Weight (gram)</text>
<line x1="103.40" y1="723.80" x2="103.40" y2="753.30" stroke="#000" stroke-width="2" />
<line x1="99.80" y1="723.80" x2="107.00" y2="723.80" stroke="#000" stroke-width="2" />
<line x1="99.80" y1="740.70" x2="107.00" y2="740.70" stroke="#000" stroke-width="2" />
<line x1="99.80" y1="753.30" x2="107.00" y2="753.30" stroke="#000" stroke-width="2" />
<line x1="151.80" y1="722.00" x2="151.80" y2="747.90" stroke="#000" stroke-width="2" />
<line x1="148.20" y1="722.00" x2="155.40" y2="722.00" stroke="#000" stroke-width="2" />
<line x1="148.20" y1="744.20" x2="155.40" y2="744.20" stroke="#000" stroke-width="2" />
<line x1="148.20" y1="747.90" x2="155.40" y2="747.90" stroke="#000" stroke-width="2" />
<line x1="200.40" y1="721.90" x2="200.40" y2="746.20" stroke="#000" stroke-width="2" />
<line x1="196.80" y1="721.90" x2="204.00" y2="721.90" stroke="#000" stroke-width="2" />
<line x1="196.80" y1="743.50" x2="204.00" y2="743.50" stroke="#000" stroke-width="2" />
<line x1="196.80" y1="746.20" x2="204.00" y2="746.20" stroke="#000" stroke-width="2" />
<line x1="249.50" y1="730.00" x2="249.50" y2="756.00" stroke="#000" stroke-width="2" />
<line x1="245.90" y1="730.00" x2="253.10" y2="730.00" stroke="#000" stroke-width="2" />
<line x1="245.90" y1="750.40" x2="253.10" y2="750.40" stroke="#000" stroke-width="2" />
<line x1="245.90" y1="756.00" x2="253.10" y2="756.00" stroke="#000" stroke-width="2" />
<line x1="103.40" y1="782.30" x2="103.40" y2="805.60" stroke="#000" stroke-width="2" />
<line x1="99.80" y1="782.30" x2="107.00" y2="782.30" stroke="#000" stroke-width="2" />
<line x1="99.80" y1="791.80" x2="107.00" y2="791.80" stroke="#000" stroke-width="2" />
<line x1="99.80" y1="805.60" x2="107.00" y2="805.60" stroke="#000" stroke-width="2" />
<line x1="151.80" y1="774.90" x2="151.80" y2="796.90" stroke="#000" stroke-width="2" />
<line x1="148.20" y1="774.90" x2="155.40" y2="774.90" stroke="#000" stroke-width="2" />
<line x1="148.20" y1="782.30" x2="155.40" y2="782.30" stroke="#000" stroke-width="2" />
<line x1="148.20" y1="796.90" x2="155.40" y2="796.90" stroke="#000" stroke-width="2" />
<line x1="200.40" y1="778.90" x2="200.40" y2="798.20" stroke="#000" stroke-width="2" />
<line x1="196.80" y1="778.90" x2="204.00" y2="778.90" stroke="#000" stroke-width="2" />
<line x1="196.80" y1="782.50" x2="204.00" y2="782.50" stroke="#000" stroke-width="2" />
<line x1="196.80" y1="792.30" x2="204.00" y2="792.30" stroke="#000" stroke-width="2" />
<line x1="196.80" y1="798.20" x2="204.00" y2="798.20" stroke="#000" stroke-width="2" />
<line x1="249.50" y1="782.70" x2="249.50" y2="802.60" stroke="#000" stroke-width="2" />
<line x1="245.90" y1="782.70" x2="253.10" y2="782.70" stroke="#000" stroke-width="2" />
<line x1="245.90" y1="792.30" x2="253.10" y2="792.30" stroke="#000" stroke-width="2" />
<line x1="245.90" y1="802.60" x2="253.10" y2="802.60" stroke="#000" stroke-width="2" />
<polyline points="103.4,738.8 151.8,735.0 200.4,734.4 249.5,743.3" fill="none" stroke="#000" stroke-width="1.5"/>
<polyline points="103.4,746.0 151.8,737.7 200.4,739.7 249.5,746.9" fill="none" stroke="#000" stroke-width="1.5"/>
<polyline points="103.4,786.9 151.8,779.3 200.4,785.6 249.5,787.2" fill="none" stroke="#000" stroke-width="1.5"/>
<polyline points="103.4,796.9 151.8,789.9 200.4,790.4 249.5,794.3" fill="none" stroke="#000" stroke-width="1.5"/>
<rect x="101.10" y="736.50" width="4.60" height="4.60" fill="#000" />
<rect x="149.50" y="732.70" width="4.60" height="4.60" fill="#000" />
<rect x="198.10" y="732.10" width="4.60" height="4.60" fill="#000" />
<rect x="247.20" y="741.00" width="4.60" height="4.60" fill="#000" />
<path d="M100.4,743.8 L106.4,743.8 L103.4,748.8 Z"/>
<path d="M148.8,735.5 L154.8,735.5 L151.8,740.5 Z"/>
<path d="M197.4,737.5 L203.4,737.5 L200.4,742.5 Z"/>
<path d="M246.5,744.7 L252.5,744.7 L249.5,749.7 Z"/>
<circle cx="103.40" cy="786.90" r="2.6" fill="#000"/>
<circle cx="151.80" cy="779.30" r="2.6" fill="#000"/>
<circle cx="200.40" cy="785.60" r="2.6" fill="#000"/>
<circle cx="249.50" cy="787.20" r="2.6" fill="#000"/>
<path d="M100.4,799.1 L106.4,799.1 L103.4,794.1 Z"/>
<path d="M148.8,792.1 L154.8,792.1 L151.8,787.1 Z"/>
<path d="M197.4,792.6 L203.4,792.6 L200.4,787.6 Z"/>
<path d="M246.5,796.5 L252.5,796.5 L249.5,791.5 Z"/>
<line x1="283.00" y1="735.50" x2="297.60" y2="735.50" stroke="#000" stroke-width="1.5" />
<rect x="288.00" y="733.20" width="4.60" height="4.60" fill="#000" />
<text x="305.85" y="739.00" font-size="10.3">Vehicle male</text>
<line x1="283.00" y1="751.60" x2="297.60" y2="751.60" stroke="#000" stroke-width="1.5" />
<path d="M287.3,749.4 L293.3,749.4 L290.3,754.4 Z"/>
<text x="305.06" y="755.10" font-size="10.3" textLength="61.85" lengthAdjust="spacingAndGlyphs">P22077 male</text>
<line x1="283.00" y1="784.60" x2="297.60" y2="784.60" stroke="#000" stroke-width="1.5" />
<circle cx="290.30" cy="784.60" r="2.6" fill="#000"/>
<text x="304.65" y="788.10" font-size="10.3" textLength="67.41" lengthAdjust="spacingAndGlyphs">Vehicle female</text>
<line x1="283.00" y1="799.50" x2="297.60" y2="799.50" stroke="#000" stroke-width="1.5" />
<path d="M287.3,801.7 L293.3,801.7 L290.3,796.7 Z"/>
<text x="303.85" y="802.40" font-size="10.3" textLength="71.45" lengthAdjust="spacingAndGlyphs">P22077 female</text>
<text x="413.49" y="677.20" font-size="14" font-weight="bold">H</text>
<line x1="471.60" y1="694.10" x2="471.60" y2="824.20" stroke="#000" stroke-width="1.6" />
<line x1="468.00" y1="823.40" x2="471.60" y2="823.40" stroke="#000" stroke-width="1.3" />
<text x="462.39" y="827.10" font-size="10.5">0</text>
<line x1="468.00" y1="797.66" x2="471.60" y2="797.66" stroke="#000" stroke-width="1.3" />
<text x="462.39" y="801.36" font-size="10.5">5</text>
<line x1="468.00" y1="771.92" x2="471.60" y2="771.92" stroke="#000" stroke-width="1.3" />
<text x="456.56" y="775.62" font-size="10.5">10</text>
<line x1="468.00" y1="746.18" x2="471.60" y2="746.18" stroke="#000" stroke-width="1.3" />
<text x="456.56" y="749.88" font-size="10.5">15</text>
<line x1="468.00" y1="720.44" x2="471.60" y2="720.44" stroke="#000" stroke-width="1.3" />
<text x="456.57" y="724.14" font-size="10.5">20</text>
<line x1="468.00" y1="694.70" x2="471.60" y2="694.70" stroke="#000" stroke-width="1.3" />
<text x="456.57" y="698.40" font-size="10.5">25</text>
<line x1="470.60" y1="823.40" x2="643.90" y2="823.40" stroke="#000" stroke-width="1.6" />
<line x1="515.40" y1="823.40" x2="515.40" y2="827.00" stroke="#000" stroke-width="1.3" />
<line x1="601.50" y1="823.40" x2="601.50" y2="827.00" stroke="#000" stroke-width="1.3" />
<text x="496.74" y="843.10" font-size="12.5" textLength="41.64" lengthAdjust="spacingAndGlyphs">Vehicle</text>
<text x="581.85" y="843.10" font-size="12.5" textLength="45.24" lengthAdjust="spacingAndGlyphs">P22077</text>
<text transform="translate(429.50,811.20) rotate(-90)" x="-1.04" y="0" font-size="12.5" textLength="107.01" lengthAdjust="spacingAndGlyphs">Murine viable cells</text>
<text transform="translate(445.50,812.40) rotate(-90)" x="-0.81" y="0" font-size="12.5" textLength="106.78" lengthAdjust="spacingAndGlyphs">(CD45.1+/ANXV-)</text>
<path d="M515,698.3 L515,705.3 M515,701.6 L604.2,701.6 M604.2,698.3 L604.2,705.3" fill="none" stroke="#222" stroke-width="1.8"/>
<text x="549.11" y="691.80" font-size="12.5" textLength="14.49" lengthAdjust="spacingAndGlyphs">ns</text>
<circle cx="515.50" cy="717.40" r="2.6" fill="#000"/>
<circle cx="511.00" cy="776.60" r="2.6" fill="#000"/>
<circle cx="520.10" cy="777.10" r="2.6" fill="#000"/>
<circle cx="511.00" cy="800.50" r="2.6" fill="#000"/>
<circle cx="520.10" cy="801.70" r="2.6" fill="#000"/>
<circle cx="515.40" cy="810.40" r="2.6" fill="#000"/>
<line x1="515.40" y1="766.70" x2="515.40" y2="794.70" stroke="#000" stroke-width="2.0" />
<line x1="500.50" y1="766.70" x2="530.30" y2="766.70" stroke="#000" stroke-width="2.0" />
<line x1="500.50" y1="794.70" x2="530.30" y2="794.70" stroke="#000" stroke-width="2.0" />
<line x1="486.80" y1="780.50" x2="544.00" y2="780.50" stroke="#000" stroke-width="1.6" />
<rect x="594.20" y="716.00" width="5.00" height="5.00" fill="#000" />
<rect x="603.80" y="716.00" width="5.00" height="5.00" fill="#000" />
<rect x="594.20" y="742.90" width="5.00" height="5.00" fill="#000" />
<rect x="603.80" y="747.70" width="5.00" height="5.00" fill="#000" />
<rect x="599.00" y="766.30" width="5.00" height="5.00" fill="#000" />
<rect x="594.60" y="801.70" width="5.00" height="5.00" fill="#000" />
<rect x="604.00" y="801.70" width="5.00" height="5.00" fill="#000" />
<line x1="601.50" y1="744.70" x2="601.50" y2="771.70" stroke="#000" stroke-width="2.0" />
<line x1="586.50" y1="744.70" x2="616.50" y2="744.70" stroke="#000" stroke-width="2.0" />
<line x1="586.50" y1="771.70" x2="616.50" y2="771.70" stroke="#000" stroke-width="2.0" />
<line x1="572.90" y1="759.00" x2="630.10" y2="759.00" stroke="#000" stroke-width="1.6" />
</svg></body></html>
